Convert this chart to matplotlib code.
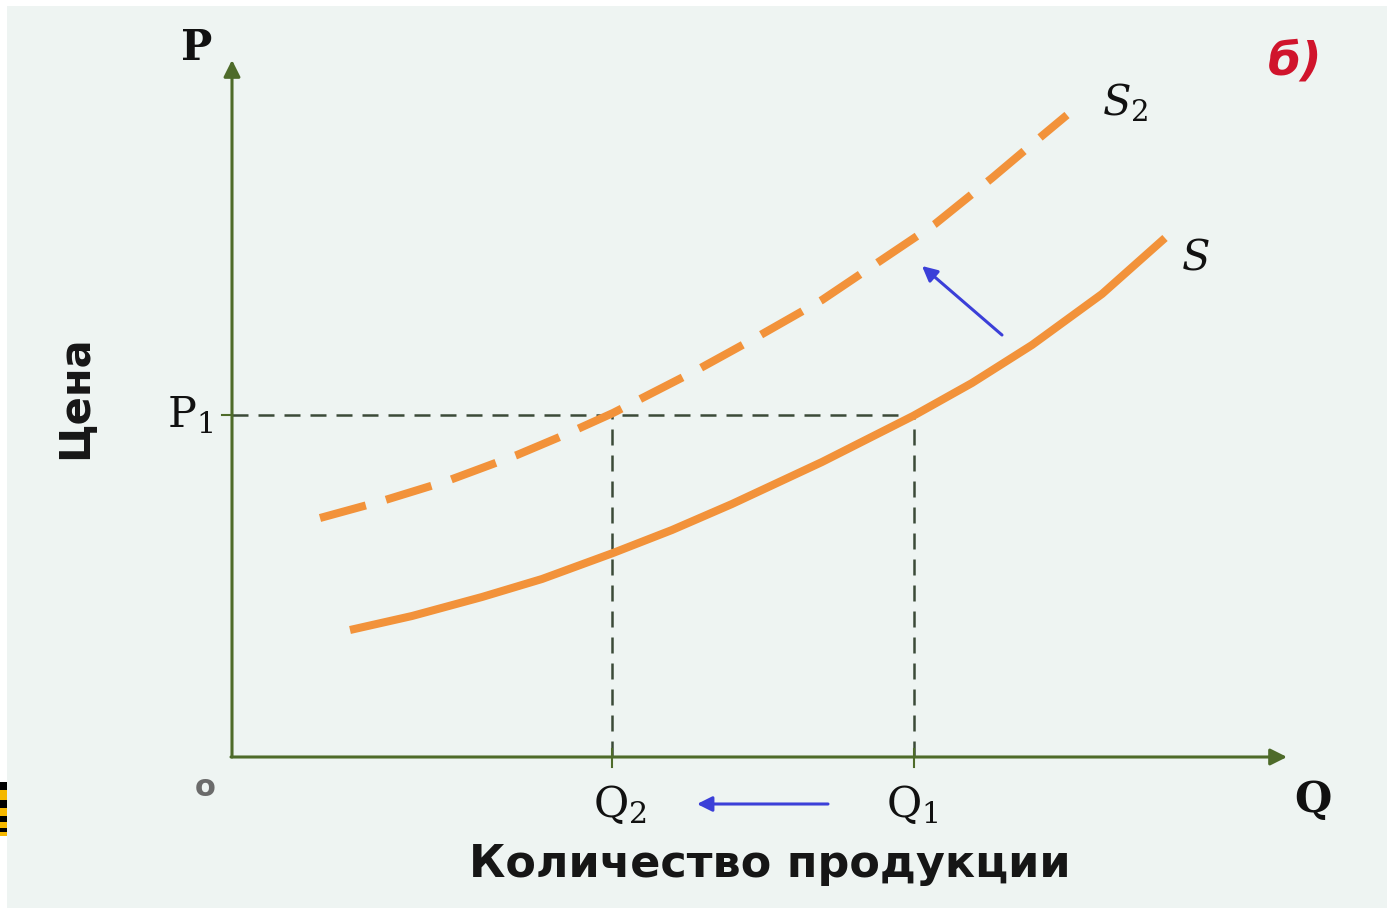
import matplotlib.pyplot as plt
from matplotlib.patches import Rectangle

plt.rcParams['mathtext.fontset'] = 'dejavuserif'

# supply curve S (solid) and shifted supply S2 (dashed)
q_s = [1.18, 1.8, 2.5, 3.1, 3.81, 4.4, 5.0, 5.9, 6.81, 7.4, 8.0, 8.7, 9.33]
p_s = [1.27, 1.41, 1.60, 1.78, 2.04, 2.27, 2.53, 2.95, 3.41, 3.74, 4.12, 4.63, 5.19]

q_s2 = [0.88, 1.5, 2.15, 2.85, 3.3, 3.81, 4.65, 5.25, 5.90, 6.45, 7.03, 7.6, 8.11, 8.35]
p_s2 = [2.39, 2.56, 2.76, 3.02, 3.21, 3.44, 3.87, 4.20, 4.57, 4.94, 5.33, 5.79, 6.22, 6.42]

P1 = 3.42
Q1 = 6.82
Q2 = 3.80

ORANGE = "#f2923a"
AXIS = "#4e6b2a"
GUIDE = "#3b4a38"
BLUE = "#3b3fd8"
BG = "#eef4f2"

W, H = 1387, 908
fig = plt.figure(figsize=(W / 100, H / 100), dpi=100, facecolor=BG)
ax = fig.add_axes([7 / W, 0, (W - 7) / W, (H - 6) / H])
ax.set_xlim(-2.25, 11.55)
ax.set_ylim(-1.51, 7.51)
ax.axis("off")

# white margins on top and left, like the scanned original
fig.add_artist(Rectangle((0, 0), 7 / W, 1, transform=fig.transFigure, color="white", lw=0))
fig.add_artist(Rectangle((0, 1 - 6 / H), 1, 6 / H, transform=fig.transFigure, color="white", lw=0))

# axes with arrows
ax.annotate("", xy=(0, 6.97), xytext=(0, 0),
            arrowprops=dict(arrowstyle="-|>,head_length=0.5,head_width=0.25",
                            color=AXIS, lw=2.2, shrinkA=0, shrinkB=0, mutation_scale=20))
ax.annotate("", xy=(10.55, 0), xytext=(-0.01, 0),
            arrowprops=dict(arrowstyle="-|>,head_length=0.5,head_width=0.25",
                            color=AXIS, lw=2.2, shrinkA=0, shrinkB=0, mutation_scale=20))

# guide lines
ax.plot([0, Q1], [P1, P1], color=GUIDE, lw=1.8, dashes=(6.4, 4))
ax.plot([Q2, Q2], [0, P1], color=GUIDE, lw=1.8, dashes=(6.4, 4))
ax.plot([Q1, Q1], [0, P1], color=GUIDE, lw=1.8, dashes=(6.4, 4))
ax.plot([Q2, Q2], [-0.1, 0.08], color=AXIS, lw=1.5)
ax.plot([Q1, Q1], [-0.1, 0.08], color=AXIS, lw=1.5)
ax.plot([-0.1, 0], [P1, P1], color=AXIS, lw=1.5)

# curves
ax.plot(q_s, p_s, color=ORANGE, lw=5.8, solid_capstyle="butt", solid_joinstyle="round")
ax.plot(q_s2, p_s2, color=ORANGE, lw=5.8, dashes=(5.9, 2.6), dash_capstyle="butt")

# shift arrows
ax.annotate("", xy=(6.90, 4.91), xytext=(7.70, 4.22),
            arrowprops=dict(arrowstyle="-|>,head_length=0.5,head_width=0.25",
                            color=BLUE, lw=2.2, shrinkA=0, shrinkB=0, mutation_scale=18))
ax.annotate("", xy=(4.65, -0.47), xytext=(5.96, -0.47),
            arrowprops=dict(arrowstyle="-|>,head_length=0.5,head_width=0.25",
                            color=BLUE, lw=2.2, shrinkA=0, shrinkB=0, mutation_scale=18))

# labels
ax.text(-0.35, 7.09, "P", fontsize=30, fontweight="bold", family="DejaVu Serif",
        ha="center", va="center", color="#111111")
ax.text(10.81, -0.43, "Q", fontsize=31, fontweight="bold", family="DejaVu Serif",
        ha="center", va="center", color="#111111")
ax.text(-0.27, -0.30, "o", fontsize=22, fontweight="bold", family="DejaVu Sans",
        ha="center", va="center", color="#6b6b6b")
ax.text(-0.42, 3.42, r"P$_{1}$", fontsize=31, family="DejaVu Serif",
        ha="center", va="center", color="#111111")
ax.text(3.88, -0.48, r"Q$_{2}$", fontsize=31, family="DejaVu Serif",
        ha="center", va="center", color="#111111")
ax.text(6.80, -0.48, r"Q$_{1}$", fontsize=31, family="DejaVu Serif",
        ha="center", va="center", color="#111111")
ax.text(8.93, 6.54, r"$S_{2}$", fontsize=30, ha="center", va="center", color="#111111")
ax.text(9.63, 4.99, r"$S$", fontsize=30, ha="center", va="center", color="#111111")
ax.text(10.63, 6.95, "б)", fontsize=34, fontweight="bold", fontstyle="italic",
        family="DejaVu Sans", ha="center", va="center", color="#d0142c")
ax.text(5.38, -1.08, "Количество продукции", fontsize=32, fontweight="bold",
        family="DejaVu Sans", ha="center", va="center", color="#161616")
ax.text(-1.57, 3.60, "Цена", fontsize=30, fontweight="bold", rotation=90,
        family="DejaVu Sans", ha="center", va="center", color="#161616")

# small striped mark at the left edge
stripes = [(782, 790, "black"), (790, 800, "#f5b800"), (800, 808, "black"),
           (808, 816, "#f5b800"), (816, 822, "black"), (822, 828, "#f5b800"),
           (828, 832, "black"), (832, 836, "#f5b800")]
for top, bot, c in stripes:
    fig.add_artist(Rectangle((0, 1 - bot / H), 7 / W, (bot - top) / H,
                             transform=fig.transFigure, color=c, lw=0))

plt.savefig("out.png", dpi=100, facecolor=BG)
